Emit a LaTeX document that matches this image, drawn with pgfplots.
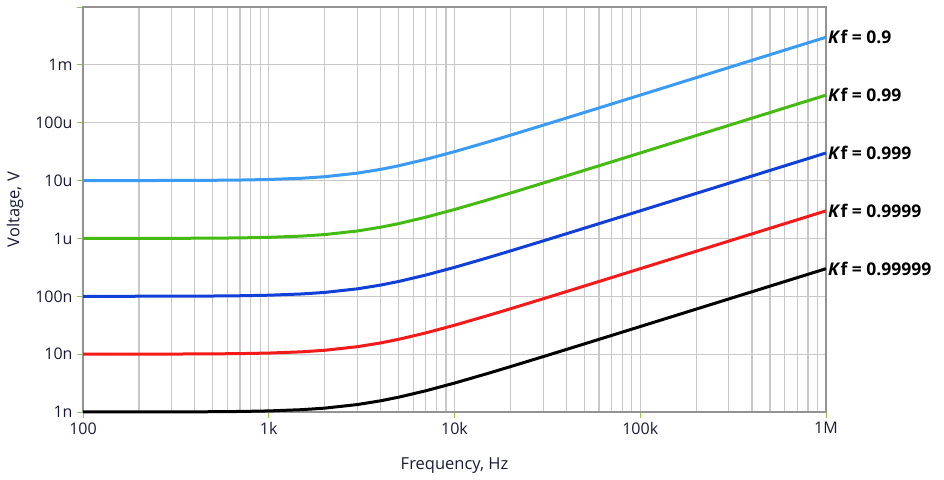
\documentclass[border=0pt]{standalone}
\usepackage{pgfplots}
\pgfplotsset{compat=1.18}
\usepackage{pgfplotstable}
\usepackage{fontspec}
\setmainfont{Open Sans}
\definecolor{lblue}{HTML}{3A9BF5}
\definecolor{cgreen}{HTML}{44BB11}
\definecolor{cblue}{HTML}{1040D8}
\definecolor{cred}{HTML}{F51A1A}
\definecolor{gridc}{HTML}{C8C8C8}
\definecolor{tickc}{HTML}{88CC44}
\definecolor{txtc}{HTML}{1A1A3A}
\pgfplotstableread{
f a b c d e
100 1.00045e-5 1.00045e-6 1.00045e-7 1.00045e-8 1.00045e-9
150 1.00101e-5 1.00101e-6 1.00101e-7 1.00101e-8 1.00101e-9
200 1.0018e-5 1.0018e-6 1.0018e-7 1.0018e-8 1.0018e-9
300 1.00404e-5 1.00404e-6 1.00404e-7 1.00404e-8 1.00404e-9
500 1.01119e-5 1.01119e-6 1.01119e-7 1.01119e-8 1.01119e-9
700 1.02181e-5 1.02181e-6 1.02181e-7 1.02181e-8 1.02181e-9
1000 1.04403e-5 1.04403e-6 1.04403e-7 1.04403e-8 1.04403e-9
1500 1.09659e-5 1.09659e-6 1.09659e-7 1.09659e-8 1.09659e-9
2000 1.16619e-5 1.16619e-6 1.16619e-7 1.16619e-8 1.16619e-9
3000 1.34536e-5 1.34536e-6 1.34536e-7 1.34536e-8 1.34536e-9
4000 1.56205e-5 1.56205e-6 1.56205e-7 1.56205e-8 1.56205e-9
5000 1.80278e-5 1.80278e-6 1.80278e-7 1.80278e-8 1.80278e-9
7000 2.32594e-5 2.32594e-6 2.32594e-7 2.32594e-8 2.32594e-9
10000 3.16228e-5 3.16228e-6 3.16228e-7 3.16228e-8 3.16228e-9
15000 4.60977e-5 4.60977e-6 4.60977e-7 4.60977e-8 4.60977e-9
20000 6.08276e-5 6.08276e-6 6.08276e-7 6.08276e-8 6.08276e-9
30000 9.05539e-5 9.05539e-6 9.05539e-7 9.05539e-8 9.05539e-9
50000 1.50333e-4 1.50333e-5 1.50333e-6 1.50333e-7 1.50333e-8
70000 2.10238e-4 2.10238e-5 2.10238e-6 2.10238e-7 2.10238e-8
100000 3.00167e-4 3.00167e-5 3.00167e-6 3.00167e-7 3.00167e-8
150000 4.50111e-4 4.50111e-5 4.50111e-6 4.50111e-7 4.50111e-8
200000 6.00083e-4 6.00083e-5 6.00083e-6 6.00083e-7 6.00083e-8
300000 9.00056e-4 9.00056e-5 9.00056e-6 9.00056e-7 9.00056e-8
500000 1.50003e-3 1.50003e-4 1.50003e-5 1.50003e-6 1.50003e-7
700000 2.10002e-3 2.10002e-4 2.10002e-5 2.10002e-6 2.10002e-7
1000000 3.00002e-3 3.00002e-4 3.00002e-5 3.00002e-6 3.00002e-7
}\datatable
\begin{document}
\begin{tikzpicture}
\useasboundingbox (0,0) rectangle (944pt,479pt);
\begin{axis}[
  at={(83pt,67pt)}, anchor=south west,
  scale only axis, width=743pt, height=405pt,
  xmode=log, ymode=log,
  xmin=100, xmax=1e6, ymin=1e-9, ymax=1e-2,
  xtick={100,1000,10000,100000,1000000},
  xticklabels={100,1k,10k,100k,1M},
  ytick={1e-9,1e-8,1e-7,1e-6,1e-5,1e-4,1e-3,1e-2},
  yticklabels={1n,10n,100n,1u,10u,100u,1m,{}},
  xmajorgrids, ymajorgrids, xminorgrids, yminorgrids=false,
  major grid style={gridc, line width=1.2pt},
  minor grid style={gridc, line width=1.2pt},
  minor tick length=0pt,
  major tick length=6pt,
  tick align=outside,
  tick pos=left,
  tick style={tickc, line width=1pt},
  axis line style={gray!85, line width=1.2pt},
  ticklabel style={font=\fontsize{16}{18}\selectfont, text=txtc},
  /pgf/number format/assume math mode=true,
  xticklabel style={yshift=-1pt},
  yticklabel style={xshift=-1pt},
  xlabel={Frequency, Hz},
  ylabel={Voltage, V},
  label style={font=\fontsize{16.5}{18}\selectfont, text=txtc},
  xlabel style={yshift=-16pt},
  ylabel style={yshift=5pt},
  clip=false,
  every axis plot/.append style={line width=3pt},
]
\addplot[lblue] table[x=f,y=a] {\datatable};
\addplot[cgreen] table[x=f,y=b] {\datatable};
\addplot[cblue] table[x=f,y=c] {\datatable};
\addplot[cred] table[x=f,y=d] {\datatable};
\addplot[black] table[x=f,y=e] {\datatable};
\begin{scope}[every node/.style={anchor=west, font=\fontsize{17.5}{19}\selectfont\bfseries, text=black, inner sep=2pt}]
\node at (axis cs:1e6,3.0e-3) {\textit{K}f = 0.9};
\node at (axis cs:1e6,3.0e-4) {\textit{K}f = 0.99};
\node at (axis cs:1e6,3.0e-5) {\textit{K}f = 0.999};
\node at (axis cs:1e6,3.0e-6) {\textit{K}f = 0.9999};
\node at (axis cs:1e6,3.0e-7) {\textit{K}f = 0.99999};
\end{scope}
\end{axis}
\end{tikzpicture}
\end{document}
